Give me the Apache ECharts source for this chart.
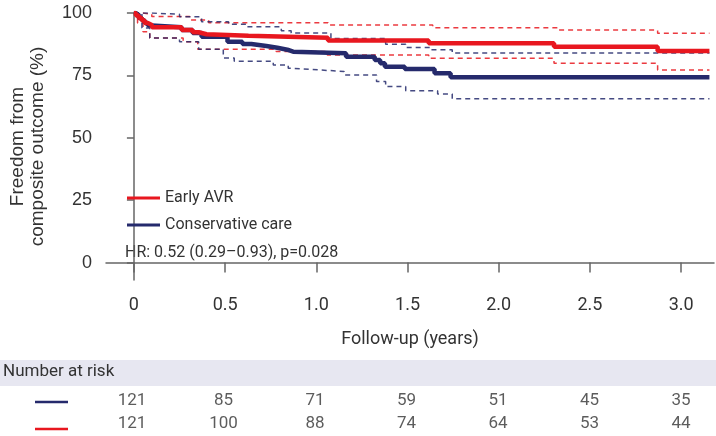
<!DOCTYPE html>
<html>
<head>
    <meta charset="utf-8">
    <title>Freedom from composite outcome</title>
    <script src="https://cdn.jsdelivr.net/npm/echarts@6.0.0/dist/echarts.min.js"></script>
    <style>
        body { margin: 0; background: #fff; }
        #chart { width: 716px; height: 436px; }
    </style>
</head>
<body>
<div id="chart"></div>
<script type="text/javascript">
    // Kaplan-Meier estimates (years, %)
    var avrTime = [0, 0.011, 0.027, 0.044, 0.06, 0.076, 0.098, 0.262, 0.322, 0.355, 0.398, 0.628, 1.064, 1.616, 2.303, 2.871, 3.155];
    var avrSurv = [100, 99.0, 98.0, 97.0, 96.0, 95.2, 94.3, 93.2, 92.3, 91.5, 90.9, 90.1, 89.0, 87.9, 86.5, 84.8, 84.8];
    var avrUpperTime = [0, 0.05, 0.098, 0.306, 0.41, 1.064, 1.638, 2.325, 2.871, 3.155];
    var avrUpper = [100, 99.5, 98.6, 97.2, 96.1, 95.2, 94.1, 93.2, 91.9, 91.9];
    var avrLowerTime = [0, 0.02, 0.05, 0.087, 0.27, 0.35, 0.78, 1.06, 1.616, 2.303, 2.871, 3.155];
    var avrLower = [100, 96, 92.5, 90.0, 88.5, 85.5, 84.6, 83.2, 81.9, 79.9, 77.2, 77.2];

    var consTime = [0, 0.011, 0.027, 0.044, 0.06, 0.076, 0.098, 0.262, 0.322, 0.371, 0.513, 0.595, 0.644, 0.726, 0.786, 0.841, 0.873, 1.163, 1.32, 1.35, 1.376, 1.485, 1.648, 1.736, 3.155];
    var consSurv = [100, 99.2, 98.0, 97.0, 96.0, 95.0, 94.3, 93.2, 92.0, 90.5, 88.5, 87.6, 86.8, 86.1, 85.3, 84.5, 83.9, 82.5, 81.2, 79.9, 78.5, 77.6, 75.9, 74.3, 74.3];
    var consUpperTime = [0, 0.1, 0.25, 0.371, 0.519, 0.617, 0.808, 0.862, 1.08, 1.38, 1.49, 1.63, 1.745, 3.155];
    var consUpper = [100, 99.5, 98.5, 96.5, 95.5, 94.5, 92.9, 92.0, 89.8, 87.5, 86.2, 85.3, 84.0, 84.0];
    var consLowerTime = [0, 0.044, 0.087, 0.25, 0.355, 0.49, 0.55, 0.764, 0.846, 0.862, 1.01, 1.152, 1.33, 1.38, 1.49, 1.665, 1.745, 3.155];
    var consLower = [100, 94, 90, 88.5, 85.5, 82.0, 80.7, 79.2, 77.9, 77.2, 76.6, 75.2, 72.5, 70.5, 68.8, 67.5, 65.6, 65.6];

    // axis ticks
    var xTicks = [0, 0.5, 1.0, 1.5, 2.0, 2.5, 3.0];
    var yTicks = [0, 25, 50, 75, 100];

    // number at risk
    var riskTimes = [0, 0.5, 1.0, 1.5, 2.0, 2.5, 3.0];
    var consRisk = [121, 85, 71, 59, 51, 45, 35];
    var avrRisk = [121, 100, 88, 74, 64, 53, 44];

    var RED = '#e8171f';
    var BLUE = '#252a6c';
    var TXT = '#333';
    var FONT = 'Roboto';

    function pairs(xs, ys) {
        return xs.map(function (x, i) { return [x, ys[i]]; });
    }

    function stepLine(name, xs, ys, color, width, dashed) {
        return {
            name: name,
            type: 'line',
            step: 'end',
            symbol: 'none',
            data: pairs(xs, ys),
            lineStyle: { color: color, width: width, type: dashed ? [5, 4] : 'solid', opacity: dashed ? 0.85 : 1 },
            itemStyle: { color: color },
            z: dashed ? 2 : 3,
            silent: true
        };
    }

    var riskData = [];
    riskTimes.forEach(function (t, i) {
        riskData.push([t, 0, consRisk[i]]);
        riskData.push([t, 1, avrRisk[i]]);
    });

    var myChart = echarts.init(document.getElementById('chart'));
    myChart.setOption({
        animation: false,
        grid: [
            { left: 104, right: 2, top: 13, bottom: 156 },
            { left: 104, right: 2, top: 388.5, height: 54 }
        ],
        xAxis: [{
            type: 'value',
            min: -0.153,
            max: 3.18,
            splitLine: { show: false },
            axisLine: { lineStyle: { color: '#666', width: 1.5 } },
            axisTick: { customValues: xTicks, length: 10, lineStyle: { color: '#666', width: 1.5 } },
            axisLabel: {
                customValues: xTicks,
                margin: 16,
                color: TXT,
                fontFamily: FONT,
                fontSize: 18,
                formatter: function (v) { return v === 0 ? '0' : v.toFixed(1); }
            },
            name: 'Follow-up (years)',
            nameLocation: 'middle',
            nameGap: 50,
            nameTextStyle: { color: TXT, fontFamily: FONT, fontSize: 18 }
        }, {
            type: 'value',
            gridIndex: 1,
            min: -0.153,
            max: 3.18,
            show: false
        }],
        yAxis: [{
            type: 'value',
            min: -7,
            max: 100,
            splitLine: { show: false },
            axisLine: { show: true, lineStyle: { color: '#666', width: 1.5 } },
            axisTick: { show: true, customValues: yTicks, length: 7, lineStyle: { color: '#666', width: 1.5 } },
            axisLabel: {
                customValues: yTicks,
                margin: 14,
                color: TXT,
                fontFamily: 'Liberation Sans',
                fontSize: 18
            },
            name: 'Freedom from\ncomposite outcome (%)',
            nameLocation: 'middle',
            nameGap: 58,
            nameRotate: 90,
            nameTextStyle: { color: TXT, fontFamily: 'Liberation Sans', fontSize: 19, lineHeight: 20 }
        }, {
            type: 'value',
            gridIndex: 1,
            min: -0.5,
            max: 1.5,
            inverse: true,
            show: false
        }],
        legend: {
            data: ['Early AVR', 'Conservative care'],
            orient: 'vertical',
            left: 122,
            top: 183,
            icon: 'rect',
            itemWidth: 33,
            itemHeight: 3,
            itemGap: 7,
            selectedMode: false,
            textStyle: { color: TXT, fontFamily: FONT, fontSize: 16, lineHeight: 20 }
        },
        graphic: [
            { type: 'text', left: 125, top: 245, style: { text: 'HR: 0.52 (0.29\u20130.93), p=0.028', fill: TXT, font: '16px Roboto' } },
            { type: 'rect', left: 0, top: 360, shape: { width: 716, height: 26 }, style: { fill: '#e7e7f1' }, z: -1 },
            { type: 'text', left: 3, top: 363, style: { text: 'Number at risk', fill: TXT, font: '17px Roboto' } },
            { type: 'line', shape: { x1: 35, y1: 402, x2: 68, y2: 402 }, style: { stroke: BLUE, lineWidth: 2.5 } },
            { type: 'line', shape: { x1: 35, y1: 429, x2: 68, y2: 429 }, style: { stroke: RED, lineWidth: 2.5 } }
        ],
        series: [
            stepLine('avrUpper', avrUpperTime, avrUpper, RED, 1.5, true),
            stepLine('avrLower', avrLowerTime, avrLower, RED, 1.5, true),
            stepLine('consUpper', consUpperTime, consUpper, BLUE, 1.5, true),
            stepLine('consLower', consLowerTime, consLower, BLUE, 1.5, true),
            stepLine('Conservative care', consTime, consSurv, BLUE, 4.5, false),
            stepLine('Early AVR', avrTime, avrSurv, RED, 4.5, false),
            {
                name: 'risk',
                type: 'scatter',
                xAxisIndex: 1,
                yAxisIndex: 1,
                symbolSize: 1,
                itemStyle: { color: 'rgba(0,0,0,0)' },
                data: riskData,
                silent: true,
                label: {
                    show: true,
                    position: 'inside',
                    color: TXT,
                    fontFamily: FONT,
                    fontSize: 17,
                    formatter: function (p) { return String(p.value[2]); }
                }
            }
        ]
    });
</script>
</body>
</html>
